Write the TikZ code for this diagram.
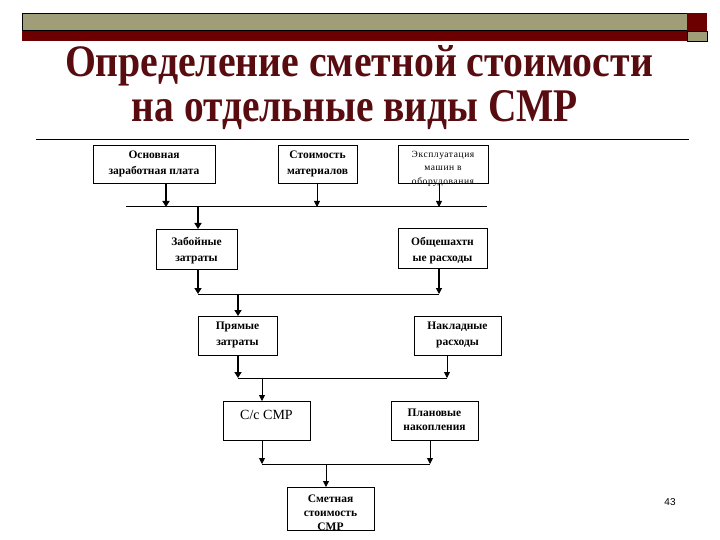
\documentclass[tikz,border=0pt]{standalone}
\usepackage{fontspec}
\usepackage{graphicx}
\setmainfont{Liberation Serif}
\newfontfamily\pagenumfont{Liberation Sans}
\usetikzlibrary{arrows.meta}
\definecolor{olivebar}{RGB}{160,158,120}
\definecolor{redbar}{RGB}{108,0,0}
\definecolor{titlered}{RGB}{88,12,16}
\begin{document}
\begin{tikzpicture}[x=1pt,y=-1pt,
  box/.style={draw, line width=0.9pt, anchor=north west, inner sep=0pt},
  btxt/.style={font=\fontsize{11.5}{16}\selectfont\bfseries, align=center, inner sep=0pt},
  btxtb/.style={font=\fontsize{11.5}{14}\selectfont\bfseries, align=center, inner sep=0pt},
  stxt/.style={font=\fontsize{9.5}{13.5}\selectfont\addfontfeatures{LetterSpace=6}, align=center, inner sep=0pt},
  ctxt/.style={font=\fontsize{14}{16}\selectfont, align=center, inner sep=0pt},
  thinarr/.style={line width=0.8pt, -{Triangle[length=6pt,width=6pt]}},
  midarr/.style={line width=1.2pt, -{Triangle[length=6pt,width=6pt]}},
  thkarr/.style={line width=1.8pt, -{Triangle[length=6pt,width=7pt]}},
  busline/.style={line width=1pt},
  titletext/.style={anchor=base, text=titlered, inner sep=0pt}]
\useasboundingbox (0,0) rectangle (720,540);
% header bars
\fill[olivebar] (22,13) rectangle (687,30);
\fill[redbar] (22,30) rectangle (687,41);
\draw[line width=0.6pt] (22,13) rectangle (687,30);
\fill[redbar] (687,13) rectangle (707,31);
\fill[olivebar] (687,31) rectangle (707,41);
\draw[line width=0.6pt] (687,31) rectangle (707,41);
% title
\node[titletext] (h1) at (359,77) {\resizebox{588pt}{31pt}{\bfseries Определение сметной стоимости}};
\node[titletext] (h2) at (355,122) {\resizebox{446pt}{31pt}{\bfseries на отдельные виды СМР}};
\draw[line width=0.8pt] (36,139) -- (689,139);
% boxes
\node[box, minimum width=122pt, minimum height=38pt] (b1) at (93,145) {};
\node[box, minimum width=79pt, minimum height=38pt] (b2) at (278,145) {};
\node[box, minimum width=90pt, minimum height=38pt] (b3) at (398,145) {};
\node[box, minimum width=81pt, minimum height=40pt] (b4) at (156,229) {};
\node[box, minimum width=89pt, minimum height=40pt] (b5) at (398,228) {};
\node[box, minimum width=79pt, minimum height=39pt] (b6) at (198,316) {};
\node[box, minimum width=87pt, minimum height=39pt] (b7) at (414,316) {};
\node[box, minimum width=87pt, minimum height=39pt] (b8) at (223,401) {};
\node[box, minimum width=87pt, minimum height=39pt] (b9) at (391,401) {};
\node[box, minimum width=87pt, minimum height=43pt] (b10) at (287,487) {};
% texts
\node[btxt] (t1) at (154,163.5) {Основная\\заработная плата};
\node[btxt] (t2) at (317.5,163.5) {Стоимость\\материалов};
\node[stxt] (t3) at (443,168.5) {Эксплуатация\\машин в\\оборудования};
\node[btxt] (t4) at (196.5,250.5) {Забойные\\затраты};
\node[btxt] (t5) at (442.5,250.5) {Общешахтн\\ые расходы};
\node[btxt] (t6) at (237.5,335) {Прямые\\затраты};
\node[btxt] (t7) at (457.5,335) {Накладные\\расходы};
\node[ctxt] (t8) at (266.5,415) {С/с СМР};
\node[btxtb] (t9) at (434.5,420) {Плановые\\накопления};
\node[btxtb] (t10) at (330.5,513) {Сметная\\стоимость\\СМР};
% bus coordinates
\coordinate (u1L) at (126,207);
\coordinate (u1R) at (487,207);
\coordinate (u1a) at (166,207);
\coordinate (u1b) at (317,207);
\coordinate (u1c) at (439,207);
\coordinate (u1o) at (198,207);
\coordinate (u2L) at (198,294);
\coordinate (u2R) at (439,294);
\coordinate (u2o) at (238,294);
\coordinate (u3L) at (238,378);
\coordinate (u3R) at (447,378);
\coordinate (u3o) at (262,378);
\coordinate (u4L) at (262,464);
\coordinate (u4R) at (430,464);
\coordinate (u4o) at (326,464);
% bus lines
\draw[busline] (u1L) -- (u1R);
\draw[busline] (u2L) -- (u2R);
\draw[busline] (u3L) -- (u3R);
\draw[busline] (u4L) -- (u4R);
% connectors
\draw[thkarr] (b1.south -| u1a) -- (u1a);
\draw[thinarr] (b2.south -| u1b) -- (u1b);
\draw[thinarr] (b3.south -| u1c) -- (u1c);
\draw[thkarr] (u1o) -- (b4.north -| u1o);
\draw[thkarr] (b4.south -| u2L) -- (u2L);
\draw[midarr] (b5.south -| u2R) -- (u2R);
\draw[thkarr] (u2o) -- (b6.north -| u2o);
\draw[thkarr] (b6.south -| u3L) -- (u3L);
\draw[thinarr] (b7.south -| u3R) -- (u3R);
\draw[thinarr] (u3o) -- (b8.north -| u3o);
\draw[thinarr] (b8.south -| u4L) -- (u4L);
\draw[thinarr] (b9.south -| u4R) -- (u4R);
\draw[thinarr] (u4o) -- (b10.north -| u4o);
% page number
\node[font=\pagenumfont\fontsize{10}{12}\selectfont, inner sep=0pt] (pn) at (670,502) {43};
\end{tikzpicture}
\end{document}
